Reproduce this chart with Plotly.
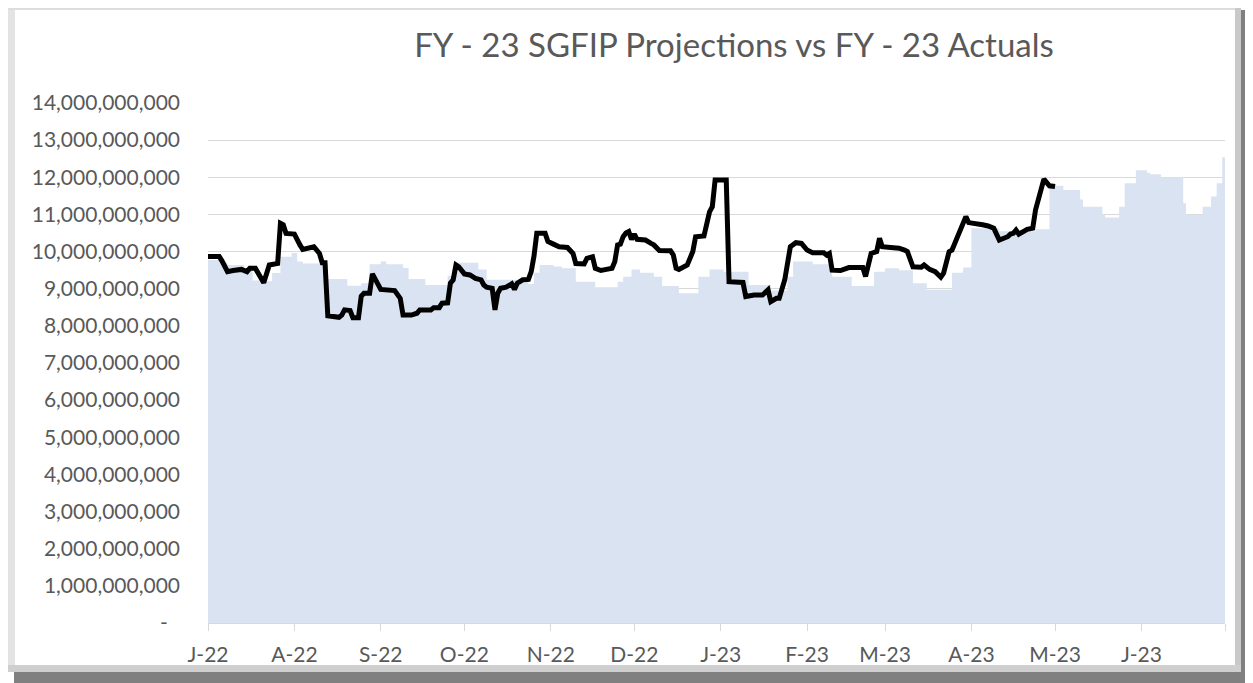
import plotly.graph_objects as go

# ---------------- data ----------------
# FY-23 SGFIP projections (step values, billions), start date of each step
proj_dates = [
    "2022-07-01", "2022-07-06", "2022-07-08", "2022-07-14", "2022-07-17", "2022-07-21",
    "2022-07-24", "2022-07-27", "2022-07-31", "2022-08-02", "2022-08-04", "2022-08-13",
    "2022-08-20", "2022-08-25", "2022-08-28", "2022-09-01", "2022-09-03", "2022-09-09",
    "2022-09-11", "2022-09-17", "2022-09-25", "2022-09-28", "2022-10-06", "2022-10-09",
    "2022-10-24", "2022-10-26", "2022-10-28", "2022-11-02", "2022-11-05", "2022-11-10",
    "2022-11-17", "2022-11-25", "2022-11-27", "2022-11-30", "2022-12-03", "2022-12-08",
    "2022-12-11", "2022-12-17", "2022-12-24", "2022-12-28", "2023-01-02", "2023-01-11",
    "2023-01-19", "2023-01-25", "2023-01-27", "2023-02-03", "2023-02-10", "2023-02-17",
    "2023-02-25", "2023-03-01", "2023-03-06", "2023-03-11", "2023-03-16", "2023-03-25",
    "2023-03-29", "2023-04-01", "2023-04-11", "2023-04-24", "2023-04-29", "2023-05-04",
    "2023-05-10", "2023-05-11", "2023-05-18", "2023-05-19", "2023-05-24", "2023-05-26",
    "2023-05-30", "2023-06-03", "2023-06-04", "2023-06-08", "2023-06-16", "2023-06-17",
    "2023-06-23", "2023-06-26", "2023-06-28", "2023-06-30", "2023-07-01",
]
proj_values = [
    9.77, 9.70, 9.64, 9.50, 9.22, 9.20,
    9.42, 9.86, 9.96, 9.73, 9.68, 9.26,
    9.08, 9.15, 9.66, 9.73, 9.66, 9.56,
    9.26, 9.10, 9.35, 9.70, 9.52, 9.24,
    9.13, 9.43, 9.64, 9.60, 9.55, 9.19,
    9.04, 9.19, 9.32, 9.52, 9.43, 9.32,
    9.07, 8.88, 9.32, 9.52, 9.46, 9.10,
    8.95, 9.32, 9.73, 9.66, 9.32, 9.07,
    9.46, 9.55, 9.50, 9.15, 8.97, 9.43,
    9.57, 10.63, 10.55, 10.60, 11.77, 11.66,
    11.40, 11.21, 11.00, 10.92, 11.21, 11.84,
    12.19, 12.12, 12.08, 12.00, 11.30, 10.99,
    11.21, 11.48, 11.84, 12.54, 12.54,
]

# FY-23 actuals (billions)
act_dates = [
    "2022-07-01", "2022-07-05", "2022-07-06", "2022-07-08", "2022-07-10", "2022-07-13",
    "2022-07-15", "2022-07-16", "2022-07-18", "2022-07-20", "2022-07-21", "2022-07-23",
    "2022-07-26", "2022-07-27", "2022-07-28", "2022-07-29", "2022-08-01", "2022-08-03",
    "2022-08-04", "2022-08-08", "2022-08-10", "2022-08-11", "2022-08-12", "2022-08-13",
    "2022-08-17", "2022-08-18", "2022-08-19", "2022-08-21", "2022-08-22", "2022-08-24",
    "2022-08-25", "2022-08-26", "2022-08-28", "2022-08-29", "2022-08-31", "2022-09-01",
    "2022-09-06", "2022-09-08", "2022-09-09", "2022-09-12", "2022-09-14", "2022-09-15",
    "2022-09-19", "2022-09-20", "2022-09-22", "2022-09-23", "2022-09-25", "2022-09-26",
    "2022-09-27", "2022-09-28", "2022-09-29", "2022-10-01", "2022-10-03", "2022-10-05",
    "2022-10-07", "2022-10-08", "2022-10-09", "2022-10-11", "2022-10-12", "2022-10-13",
    "2022-10-14", "2022-10-16", "2022-10-18", "2022-10-19", "2022-10-20", "2022-10-22",
    "2022-10-24", "2022-10-25", "2022-10-26", "2022-10-27", "2022-10-30", "2022-10-31",
    "2022-11-02", "2022-11-04", "2022-11-07", "2022-11-09", "2022-11-10", "2022-11-13",
    "2022-11-14", "2022-11-16", "2022-11-17", "2022-11-19", "2022-11-21", "2022-11-23",
    "2022-11-24", "2022-11-25", "2022-11-26", "2022-11-27", "2022-11-28", "2022-11-29",
    "2022-11-30", "2022-12-01", "2022-12-02", "2022-12-05", "2022-12-07", "2022-12-08",
    "2022-12-10", "2022-12-14", "2022-12-15", "2022-12-16", "2022-12-17", "2022-12-20",
    "2022-12-22", "2022-12-23", "2022-12-26", "2022-12-28", "2022-12-29", "2022-12-30",
    "2023-01-03", "2023-01-04", "2023-01-09", "2023-01-10", "2023-01-13", "2023-01-16",
    "2023-01-18", "2023-01-19", "2023-01-21", "2023-01-22", "2023-01-24", "2023-01-25",
    "2023-01-26", "2023-01-28", "2023-01-30", "2023-02-01", "2023-02-03", "2023-02-07",
    "2023-02-08", "2023-02-09", "2023-02-10", "2023-02-13", "2023-02-16", "2023-02-21",
    "2023-02-22", "2023-02-24", "2023-02-26", "2023-02-27", "2023-02-28", "2023-03-03",
    "2023-03-06", "2023-03-08", "2023-03-09", "2023-03-11", "2023-03-14", "2023-03-15",
    "2023-03-17", "2023-03-19", "2023-03-21", "2023-03-22", "2023-03-24", "2023-03-25",
    "2023-03-27", "2023-03-28", "2023-03-30", "2023-03-31", "2023-04-03", "2023-04-05",
    "2023-04-07", "2023-04-09", "2023-04-11", "2023-04-14", "2023-04-15", "2023-04-16",
    "2023-04-17", "2023-04-18", "2023-04-21", "2023-04-23", "2023-04-24", "2023-04-26",
    "2023-04-27", "2023-04-29", "2023-05-01",
]
act_values = [
    9.87, 9.87, 9.75, 9.46, 9.49, 9.52,
    9.46, 9.55, 9.55, 9.33, 9.16, 9.64,
    9.68, 10.76, 10.72, 10.49, 10.47, 10.18,
    10.06, 10.13, 9.95, 9.70, 9.70, 8.27,
    8.23, 8.29, 8.43, 8.41, 8.22, 8.22,
    8.80, 8.88, 8.88, 9.40, 9.15, 8.98,
    8.95, 8.74, 8.29, 8.29, 8.34, 8.43,
    8.43, 8.49, 8.49, 8.61, 8.62, 9.15,
    9.24, 9.64, 9.59, 9.40, 9.37, 9.28,
    9.24, 9.10, 9.04, 9.01, 8.43, 8.88,
    9.01, 9.04, 9.13, 8.98, 9.15, 9.24,
    9.25, 9.46, 9.88, 10.49, 10.49, 10.27,
    10.20, 10.13, 10.11, 9.95, 9.68, 9.67,
    9.82, 9.86, 9.55, 9.49, 9.52, 9.55,
    9.73, 10.18, 10.20, 10.40, 10.50, 10.54,
    10.33, 10.47, 10.33, 10.31, 10.22, 10.18,
    10.03, 10.02, 9.91, 9.55, 9.52, 9.64,
    10.00, 10.40, 10.42, 11.07, 11.21, 11.93,
    11.93, 9.19, 9.17, 8.79, 8.83, 8.83,
    8.97, 8.65, 8.74, 8.74, 9.24, 9.77,
    10.13, 10.24, 10.22, 10.04, 9.97, 9.97,
    9.91, 9.95, 9.50, 9.49, 9.57, 9.57,
    9.33, 9.95, 10.00, 10.36, 10.13, 10.11,
    10.09, 10.04, 10.00, 9.59, 9.58, 9.64,
    9.52, 9.46, 9.31, 9.42, 10.00, 10.04,
    10.40, 10.54, 10.94, 10.78, 10.76, 10.72,
    10.69, 10.63, 10.31, 10.40, 10.47, 10.49,
    10.58, 10.47, 10.60, 10.63, 11.12, 11.66,
    11.95, 11.77, 11.75,
]

month_ticks = [
    "2022-07-01", "2022-08-01", "2022-09-01", "2022-10-01", "2022-11-01", "2022-12-01",
    "2023-01-01", "2023-02-01", "2023-03-01", "2023-04-01", "2023-05-01", "2023-06-01",
    "2023-07-01",
]
month_labels = ["J-22", "A-22", "S-22", "O-22", "N-22", "D-22",
                "J-23", "F-23", "M-23", "A-23", "M-23", "J-23", ""]

y_ticks = [0, 1, 2, 3, 4, 5, 6, 7, 8, 9, 10, 11, 12, 13, 14]
y_labels = ["-\u2007", "1,000,000,000", "2,000,000,000", "3,000,000,000",
            "4,000,000,000", "5,000,000,000", "6,000,000,000", "7,000,000,000",
            "8,000,000,000", "9,000,000,000", "10,000,000,000", "11,000,000,000",
            "12,000,000,000", "13,000,000,000", "14,000,000,000"]

title_text = "FY - 23 SGFIP Projections vs FY - 23 Actuals"

# ---------------- figure ----------------
# the page body adds an 8px margin, so the figure is laid out 8px up/left
OFF = 8
W, H = 1253 - OFF, 683 - OFF
ML, MR, MT, MB = 208 - OFF, 28, 103 - OFF, 60
PW, PH = W - ML - MR, H - MT - MB


def px(x):
    return (x - OFF - ML) / PW


def py(y):
    return (H - MB - (y - OFF)) / PH


FONT = "Lato, 'Open Sans', sans-serif"
GREY_TXT = "#595959"
GRID = "#D9D9D9"

fig = go.Figure()
fig.add_trace(go.Scatter(
    x=proj_dates, y=proj_values, mode="lines",
    line=dict(width=0, shape="hv", color="#DAE3F1"),
    fill="tozeroy", fillcolor="#DAE3F1",
    name="FY - 23 SGFIP Projections", hoverinfo="x+y",
))
fig.add_trace(go.Scatter(
    x=act_dates, y=act_values, mode="lines",
    line=dict(color="#000000", width=5),
    name="FY - 23 Actuals",
))

shapes = []
# frame / shadow (page pixel coordinates)
shapes.append(dict(type="rect", xref="paper", yref="paper",
                   x0=px(8), x1=px(15), y0=py(672), y1=py(8),
                   fillcolor="#E3E3E3", line=dict(width=0)))
shapes.append(dict(type="rect", xref="paper", yref="paper",
                   x0=px(8), x1=px(1241), y0=py(10), y1=py(8),
                   fillcolor="#DDDDDD", line=dict(width=0)))
shapes.append(dict(type="rect", xref="paper", yref="paper",
                   x0=px(1235), x1=px(1241), y0=py(672), y1=py(8),
                   fillcolor="#C9C9C9", line=dict(width=0)))
shapes.append(dict(type="rect", xref="paper", yref="paper",
                   x0=px(8), x1=px(1241), y0=py(672), y1=py(665),
                   fillcolor="#CFCFCF", line=dict(width=0)))
shapes.append(dict(type="rect", xref="paper", yref="paper",
                   x0=px(1241), x1=px(1253), y0=py(683), y1=py(10),
                   fillcolor="#808080", line=dict(width=0)))
shapes.append(dict(type="rect", xref="paper", yref="paper",
                   x0=px(14), x1=px(1253), y0=py(683), y1=py(672),
                   fillcolor="#808080", line=dict(width=0)))

fig.update_layout(
    width=W, height=H,
    margin=dict(l=ML, r=MR, t=MT, b=MB, pad=0),
    paper_bgcolor="#FFFFFF", plot_bgcolor="#FFFFFF",
    showlegend=False,
    shapes=shapes,
    title=dict(text=title_text, x=(734 - OFF) / W, xref="container", xanchor="center",
               y=1 - (45 - OFF) / H, yref="container", yanchor="middle",
               font=dict(family=FONT, size=33, color=GREY_TXT)),
    xaxis=dict(
        type="date", range=["2022-07-01", "2023-07-01"],
        tickmode="array", tickvals=month_ticks, ticktext=month_labels,
        showgrid=False, zeroline=False,
        showline=True, linecolor=GRID, linewidth=1.3,
        ticks="outside", ticklen=7, tickwidth=1.3, tickcolor=GRID,
        ticklabelstandoff=6,
        tickfont=dict(family=FONT, size=21, color=GREY_TXT),
    ),
    yaxis=dict(
        range=[0, 14], tickmode="array", tickvals=y_ticks, ticktext=y_labels,
        showgrid=True, gridcolor=GRID, gridwidth=1.3,
        zeroline=False, showline=False, ticks="",
        ticklabelstandoff=27,
        tickfont=dict(family=FONT, size=21, color=GREY_TXT),
    ),
)

fig.write_html("out.html")
